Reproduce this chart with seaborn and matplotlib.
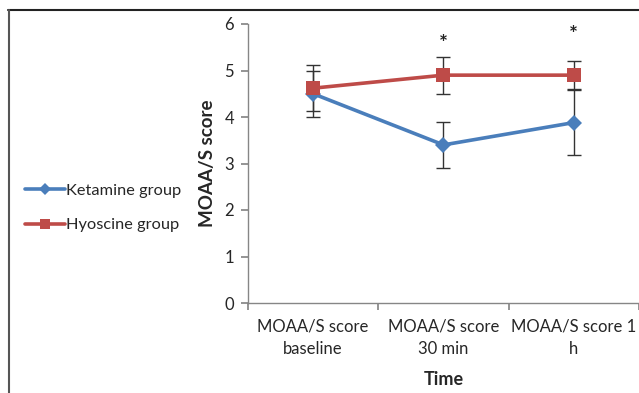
import pandas as pd
import numpy as np
import matplotlib
matplotlib.use("Agg")
import matplotlib.pyplot as plt
from matplotlib.lines import Line2D
import seaborn as sns

# data (mean +/- error bar)
time_labels = ["MOAA/S score\nbaseline", "MOAA/S score\n30 min", "MOAA/S score 1\nh"]
ketamine_mean = [4.5, 3.4, 3.88]
ketamine_err = [0.5, 0.5, 0.7]
hyoscine_mean = [4.62, 4.9, 4.9]
hyoscine_err = [0.5, 0.4, 0.3]
star_x = [1, 2]
star_y = [5.58, 5.77]

sns.set_theme(style="white")
plt.rcParams["font.family"] = ["Lato", "DejaVu Sans"]

df = pd.DataFrame({
    "pos": list(range(3)) * 2,
    "score": ketamine_mean + hyoscine_mean,
    "err": ketamine_err + hyoscine_err,
    "group": ["Ketamine group"] * 3 + ["Hyoscine group"] * 3,
})

colors = {"Ketamine group": "#4A7EBB", "Hyoscine group": "#BE4B48"}
marks = {"Ketamine group": "D", "Hyoscine group": "s"}
msize = {"Ketamine group": 8, "Hyoscine group": 10}

fig = plt.figure(figsize=(6.39, 3.93), dpi=100)
ax = fig.add_axes([248 / 639, 1 - 303 / 393, 391 / 639, 279 / 393])

for g in ["Ketamine group", "Hyoscine group"]:
    sub = df[df.group == g]
    ax.errorbar(sub.pos, sub.score, yerr=sub.err, fmt="none", ecolor="#333333",
                elinewidth=1, capsize=5, capthick=1, zorder=2)
    sns.lineplot(data=sub, x="pos", y="score", ax=ax, color=colors[g], lw=2.6,
                 marker=marks[g], markersize=msize[g], markeredgewidth=0,
                 legend=False, zorder=3)

for x, y in zip(star_x, star_y):
    ax.text(x, y, "*", ha="center", va="center", fontsize=15, fontweight="bold",
            color="#222222")

ax.set_xlim(-0.5, 2.5)
ax.set_ylim(0, 6)
ax.set_yticks(range(7))
ax.set_xticks([-0.5, 0.5, 1.5, 2.5])
ax.set_xticklabels([])
ax.set_xticks(range(3), minor=True)
ax.set_xticklabels(time_labels, minor=True, fontsize=12, linespacing=1.5)
ax.tick_params(axis="x", which="minor", length=0, pad=11)
ax.tick_params(axis="x", which="major", length=5, color="#868686", direction="out")
ax.tick_params(axis="y", length=5, color="#868686", direction="out", labelsize=12, pad=5)
ax.tick_params(bottom=True, left=True)
for s in ["top", "right"]:
    ax.spines[s].set_visible(False)
for s in ["left", "bottom"]:
    ax.spines[s].set_color("#868686")
    ax.spines[s].set_linewidth(1)

ax.set_xlabel("Time", fontsize=13, fontweight="bold", labelpad=10)
ax.set_ylabel("MOAA/S score", fontsize=13.5, fontweight="bold", labelpad=6)

handles = [Line2D([], [], color=colors[g], lw=2.6, marker=marks[g],
                  markersize=msize[g] * 0.75, markeredgewidth=0) for g in colors]
fig.legend(handles, list(colors), loc="center left", bbox_to_anchor=(17 / 639, 1 - 208 / 393),
           frameon=False, fontsize=11.8, handlelength=2.4, handletextpad=0.1,
           labelspacing=1.2, borderpad=0)

# frame lines of the source figure
fig.add_artist(Line2D([8 / 639, 1], [1 - 9.5 / 393] * 2, color="#222222", lw=1.5))
fig.add_artist(Line2D([8.5 / 639] * 2, [0, 1 - 9.5 / 393], color="#555555", lw=1.5))

fig.savefig("out.png", dpi=100)
